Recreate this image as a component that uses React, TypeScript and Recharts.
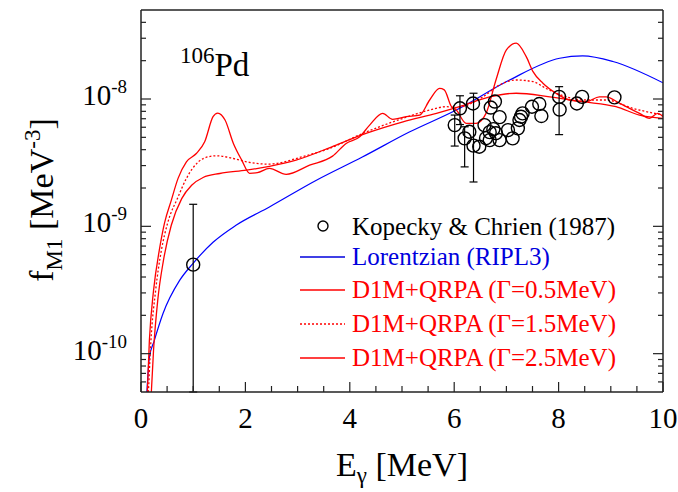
import React from "react";
import { ComposedChart, Line, Scatter, XAxis, YAxis, ErrorBar, Legend } from "recharts";

const FONT = '"Liberation Serif", "Times New Roman", Times, serif';
const AX = "#222";
const RED = "#ff0000";
const BLUE = "#0000ff";
const TXT = { fontFamily: FONT };

// Lorentzian (RIPL3)
const lorE = [0.1, 0.16, 0.25, 0.42, 0.74, 0.99, 1.38, 1.82, 2.46, 3.36, 4.24, 5.14, 6.04, 7.06, 8.02, 8.46, 9.04, 10.0];
const lorF = [4e-11, 9.3e-11, 1.25e-10, 2.06e-10, 3.76e-10, 5.08e-10, 7.5e-10, 1.02e-9, 1.42e-9, 2.3e-9, 3.5e-9, 5.5e-9, 8.2e-9, 1.41e-8, 2.09e-8, 2.18e-8, 1.97e-8, 1.34e-8];

// D1M+QRPA, Gamma = 0.5 MeV
const g05E = [0.1, 0.16, 0.24, 0.35, 0.45, 0.58, 0.71, 0.87, 1.06, 1.22, 1.38, 1.47, 1.61, 1.77, 1.93, 2.08, 2.23, 2.46, 2.78, 3.23, 3.67, 3.93, 4.19, 4.38, 4.63, 4.82, 5.08, 5.34, 5.53, 5.72, 5.81, 5.94, 6.04, 6.23, 6.42, 6.61, 6.8, 7.0, 7.19, 7.38, 7.51, 7.7, 7.95, 8.21, 8.53, 8.78, 8.91, 9.17, 9.55, 9.74, 9.9, 10.0];
const g05F = [3e-11, 1.26e-10, 3.13e-10, 6.47e-10, 1.06e-9, 1.6e-9, 2.38e-9, 3.21e-9, 3.73e-9, 4.61e-9, 7.26e-9, 7.76e-9, 6.84e-9, 4.48e-9, 3.31e-9, 2.61e-9, 2.64e-9, 2.85e-9, 2.56e-9, 3.02e-9, 3.56e-9, 4.48e-9, 5.05e-9, 6.24e-9, 7.71e-9, 6.92e-9, 7.26e-9, 7.48e-9, 9.82e-9, 1.21e-8, 1.18e-8, 8.81e-9, 8.19e-9, 6.44e-9, 6.44e-9, 7.71e-9, 1.41e-8, 2.43e-8, 2.75e-8, 2.15e-8, 1.64e-8, 1.33e-8, 1.11e-8, 9.82e-9, 9.52e-9, 1.04e-8, 1.04e-8, 9.24e-9, 7.71e-9, 7.05e-9, 7.71e-9, 7.26e-9];

// D1M+QRPA, Gamma = 1.5 MeV
const g15E = [0.12, 0.19, 0.28, 0.39, 0.51, 0.71, 0.87, 1.1, 1.29, 1.45, 1.77, 2.02, 2.46, 2.59, 3.09, 3.61, 4.25, 5.02, 5.53, 5.85, 6.04, 6.55, 6.87, 7.19, 7.51, 7.76, 8.15, 8.53, 8.91, 9.42, 10.0];
const g15F = [3e-11, 1.26e-10, 3.13e-10, 6.47e-10, 1.06e-9, 1.7e-9, 2.38e-9, 3.21e-9, 3.52e-9, 3.58e-9, 3.41e-9, 3.21e-9, 3.08e-9, 3.12e-9, 3.52e-9, 4.09e-9, 5.37e-9, 7.05e-9, 8.19e-9, 8.7e-9, 8.57e-9, 1.04e-8, 1.29e-8, 1.41e-8, 1.37e-8, 1.21e-8, 1.04e-8, 9.82e-9, 9.82e-9, 8.45e-9, 7.48e-9];

// D1M+QRPA, Gamma = 2.5 MeV
const g25E = [0.17, 0.24, 0.32, 0.43, 0.58, 0.78, 0.97, 1.19, 1.51, 2.02, 2.46, 2.97, 3.74, 4.31, 5.02, 5.66, 6.1, 6.68, 7.19, 7.83, 8.46, 9.1, 9.55, 10.0];
const g25F = [3e-11, 1.06e-10, 2.61e-10, 5.4e-10, 1.02e-9, 1.65e-9, 2.1e-9, 2.42e-9, 2.6e-9, 2.76e-9, 2.96e-9, 3.31e-9, 4.35e-9, 5.37e-9, 6.62e-9, 7.71e-9, 8.7e-9, 1.04e-8, 1.11e-8, 1.04e-8, 9.52e-9, 8.7e-9, 7.48e-9, 7.05e-9];

// Kopecky & Chrien (1987)
const expE = [1.0, 6.01, 6.11, 6.36, 6.78, 6.7, 6.87, 6.2, 6.29, 6.37, 6.48, 6.58, 6.61, 6.68, 6.8, 6.68, 6.75, 6.87, 7.03, 7.12, 7.22, 7.28, 7.31, 7.25, 7.49, 7.63, 7.67, 8.01, 8.02, 8.35, 8.45, 9.07];
const expF = [5.0e-10, 6.24e-9, 8.45e-9, 9.22e-9, 9.55e-9, 8.57e-9, 7.21e-9, 4.91e-9, 5.53e-9, 4.3e-9, 4.22e-9, 6.24e-9, 4.93e-9, 5.49e-9, 5.39e-9, 4.75e-9, 5.8e-9, 4.75e-9, 5.7e-9, 4.91e-9, 5.88e-9, 7.26e-9, 7.71e-9, 6.84e-9, 8.69e-9, 9.14e-9, 7.35e-9, 1.04e-8, 8.26e-9, 9.22e-9, 1.04e-8, 1.03e-8];
const expLo = [4.5e-10, 1.97e-9, 2.15e-9, null, null, null, null, 1.98e-9, null, 2.07e-9, null, null, null, null, null, null, null, null, null, null, null, null, null, null, null, null, null, 5.15e-9, null, null, null, null];
const expHi = [9.9e-10, 1.24e-9, 2.15e-9, null, null, null, null, 1.14e-9, null, 6.8e-9, null, null, null, null, null, null, null, null, null, null, null, null, null, null, null, null, null, 2.1e-9, null, null, null, null];

const xTicks = [0, 0.5, 1, 1.5, 2, 2.5, 3, 3.5, 4, 4.5, 5, 5.5, 6, 6.5, 7, 7.5, 8, 8.5, 9, 9.5, 10];
const yTicks = [
  6e-11, 7e-11, 8e-11, 9e-11,
  1e-10, 2e-10, 3e-10, 4e-10, 5e-10, 6e-10, 7e-10, 8e-10, 9e-10,
  1e-9, 2e-9, 3e-9, 4e-9, 5e-9, 6e-9, 7e-9, 8e-9, 9e-9,
  1e-8, 2e-8, 3e-8, 4e-8,
];

const legendRows = [
  { label: "Kopecky & Chrien (1987)", color: "#000", kind: "circle" },
  { label: "Lorentzian (RIPL3)", color: "#0000dd", kind: "solid" },
  { label: "D1M+QRPA (\u0393=0.5MeV)", color: RED, kind: "solid" },
  { label: "D1M+QRPA (\u0393=1.5MeV)", color: RED, kind: "dotted" },
  { label: "D1M+QRPA (\u0393=2.5MeV)", color: RED, kind: "solid" },
];
const legendBase = [25, 55, 88, 122, 156];

const zip = (es: number[], fs: number[]) => es.map((E, i) => ({ E, f: fs[i] }));
const lorData = zip(lorE, lorF);
const g05Data = zip(g05E, g05F);
const g15Data = zip(g15E, g15F);
const g25Data = zip(g25E, g25F);
const expData = expE.map((E, i) => ({
  E,
  f: expF[i],
  err: expLo[i] == null ? undefined : [expLo[i], expHi[i]],
}));

const isDecade = (v: number) => {
  const l = Math.log10(v);
  return Math.abs(l - Math.round(l)) < 1e-6;
};
const isEven = (v: number) => Math.abs(v / 2 - Math.round(v / 2)) < 1e-9;

function XTickBottom({ x, y, payload }: any) {
  const major = isEven(payload.value);
  return (
    <g>
      <line x1={x} x2={x} y1={y} y2={y - (major ? 10 : 6)} stroke={AX} strokeWidth={1.2} />
      {major && (
        <text x={x} y={y + 36} textAnchor="middle" style={TXT} fontSize={29} fill="#000">
          {payload.value}
        </text>
      )}
    </g>
  );
}

function XTickTop({ x, y, payload }: any) {
  const major = isEven(payload.value);
  return <line x1={x} x2={x} y1={y} y2={y + (major ? 10 : 6)} stroke={AX} strokeWidth={1.2} />;
}

function YTickLeft({ x, y, payload }: any) {
  const major = isDecade(payload.value);
  const exp = Math.round(Math.log10(payload.value));
  return (
    <g>
      <line x1={x} x2={x + (major ? 10 : 5)} y1={y} y2={y} stroke={AX} strokeWidth={1.2} />
      {major && (
        <text x={x - 14} y={y + 6} textAnchor="end" style={TXT} fontSize={29} fill="#000">
          10
          <tspan dy={-12} fontSize={19}>
            {exp}
          </tspan>
        </text>
      )}
    </g>
  );
}

function YTickRight({ x, y, payload }: any) {
  const major = isDecade(payload.value);
  return <line x1={x} x2={x - (major ? 10 : 5)} y1={y} y2={y} stroke={AX} strokeWidth={1.2} />;
}

function XTitle({ viewBox }: any) {
  const cx = viewBox.x + viewBox.width / 2;
  return (
    <text x={cx} y={viewBox.y + 84} textAnchor="middle" style={TXT} fontSize={34} fill="#000">
      E
      <tspan dy={7} fontSize={23}>
        {"\u03b3"}
      </tspan>
      <tspan dy={-7}> [MeV]</tspan>
    </text>
  );
}

function YTitle() {
  return (
    <text
      x={53}
      y={200}
      transform="rotate(-90, 53, 200)"
      textAnchor="middle"
      style={TXT}
      fontSize={34}
      fill="#000"
    >
      f
      <tspan dy={9} fontSize={23}>
        M1
      </tspan>
      <tspan dy={-9}> [MeV</tspan>
      <tspan dy={-13} fontSize={23}>
        -3
      </tspan>
      <tspan dy={13}>]</tspan>
    </text>
  );
}

function LegendBox() {
  return (
    <svg width={388} height={170} style={{ display: "block" }}>
      {legendRows.map((r, i) => {
        const b = legendBase[i];
        const my = b - 8;
        return (
          <g key={r.label}>
            {r.kind === "circle" ? (
              <circle cx={33} cy={my - 1} r={5} fill="none" stroke="#000" strokeWidth={1.4} />
            ) : (
              <line
                x1={10}
                x2={55}
                y1={my}
                y2={my}
                stroke={r.color}
                strokeWidth={1.3}
                strokeDasharray={r.kind === "dotted" ? "2 2" : undefined}
              />
            )}
            <text x={62} y={b} style={TXT} fontSize={25} fill={r.color}>
              {r.label}
            </text>
          </g>
        );
      })}
    </svg>
  );
}

const circleShape = (p: any) => (
  <circle cx={p.cx} cy={p.cy} r={6.5} fill="none" stroke="#000" strokeWidth={1.4} />
);

export default function App() {
  return (
    <div style={{ position: "absolute", left: 0, top: 0, width: 678, height: 492, background: "#fff" }}>
      <ComposedChart width={678} height={492} margin={{ top: 0, right: 0, bottom: 0, left: 0 }}>
        <XAxis
          xAxisId="b"
          type="number"
          dataKey="E"
          domain={[0, 10]}
          allowDataOverflow
          ticks={xTicks}
          interval={0}
          height={100}
          tickLine={false}
          tickSize={0}
          tickMargin={0}
          tick={<XTickBottom />}
          axisLine={{ stroke: AX, strokeWidth: 1.5 }}
          label={XTitle}
        />
        <XAxis
          xAxisId="t"
          orientation="top"
          type="number"
          domain={[0, 10]}
          allowDataOverflow
          ticks={xTicks}
          interval={0}
          height={10}
          tickLine={false}
          tickSize={0}
          tickMargin={0}
          tick={<XTickTop />}
          axisLine={{ stroke: AX, strokeWidth: 1.5 }}
        />
        <YAxis
          yAxisId="l"
          type="number"
          scale="log"
          domain={[5e-11, 5e-8]}
          allowDataOverflow
          ticks={yTicks}
          interval={0}
          width={141}
          tickLine={false}
          tickSize={0}
          tickMargin={0}
          tick={<YTickLeft />}
          axisLine={{ stroke: AX, strokeWidth: 1.5 }}
          label={YTitle}
        />
        <YAxis
          yAxisId="r"
          orientation="right"
          type="number"
          scale="log"
          domain={[5e-11, 5e-8]}
          allowDataOverflow
          ticks={yTicks}
          interval={0}
          width={15}
          tickLine={false}
          tickSize={0}
          tickMargin={0}
          tick={<YTickRight />}
          axisLine={{ stroke: AX, strokeWidth: 1.5 }}
        />
        <Legend
          layout="vertical"
          align="center"
          verticalAlign="middle"
          wrapperStyle={{ left: 290, top: 210, width: 388, height: 170 }}
          content={() => <LegendBox />}
        />
        <Line xAxisId="b" yAxisId="l" data={lorData} dataKey="f" type="monotone" stroke={BLUE} strokeWidth={1.2} dot={false} activeDot={false} isAnimationActive={false} />
        <Line xAxisId="b" yAxisId="l" data={g05Data} dataKey="f" type="monotone" stroke={RED} strokeWidth={1.3} dot={false} activeDot={false} isAnimationActive={false} />
        <Line xAxisId="b" yAxisId="l" data={g15Data} dataKey="f" type="monotone" stroke={RED} strokeWidth={1.3} strokeDasharray="2 2" dot={false} activeDot={false} isAnimationActive={false} />
        <Line xAxisId="b" yAxisId="l" data={g25Data} dataKey="f" type="monotone" stroke={RED} strokeWidth={1.3} dot={false} activeDot={false} isAnimationActive={false} />
        <Scatter xAxisId="b" yAxisId="l" data={expData} dataKey="f" shape={circleShape} isAnimationActive={false}>
          <ErrorBar dataKey="err" direction="y" width={4} stroke="#000" strokeWidth={1.2} isAnimationActive={false} />
        </Scatter>
      </ComposedChart>
      <div
        style={{
          position: "absolute",
          left: 180,
          top: 36,
          fontFamily: FONT,
          fontSize: 33,
          lineHeight: "40px",
          color: "#000",
          whiteSpace: "nowrap",
        }}
      >
        <sup style={{ fontSize: 23, verticalAlign: "13px" }}>106</sup>Pd
      </div>
    </div>
  );
}
